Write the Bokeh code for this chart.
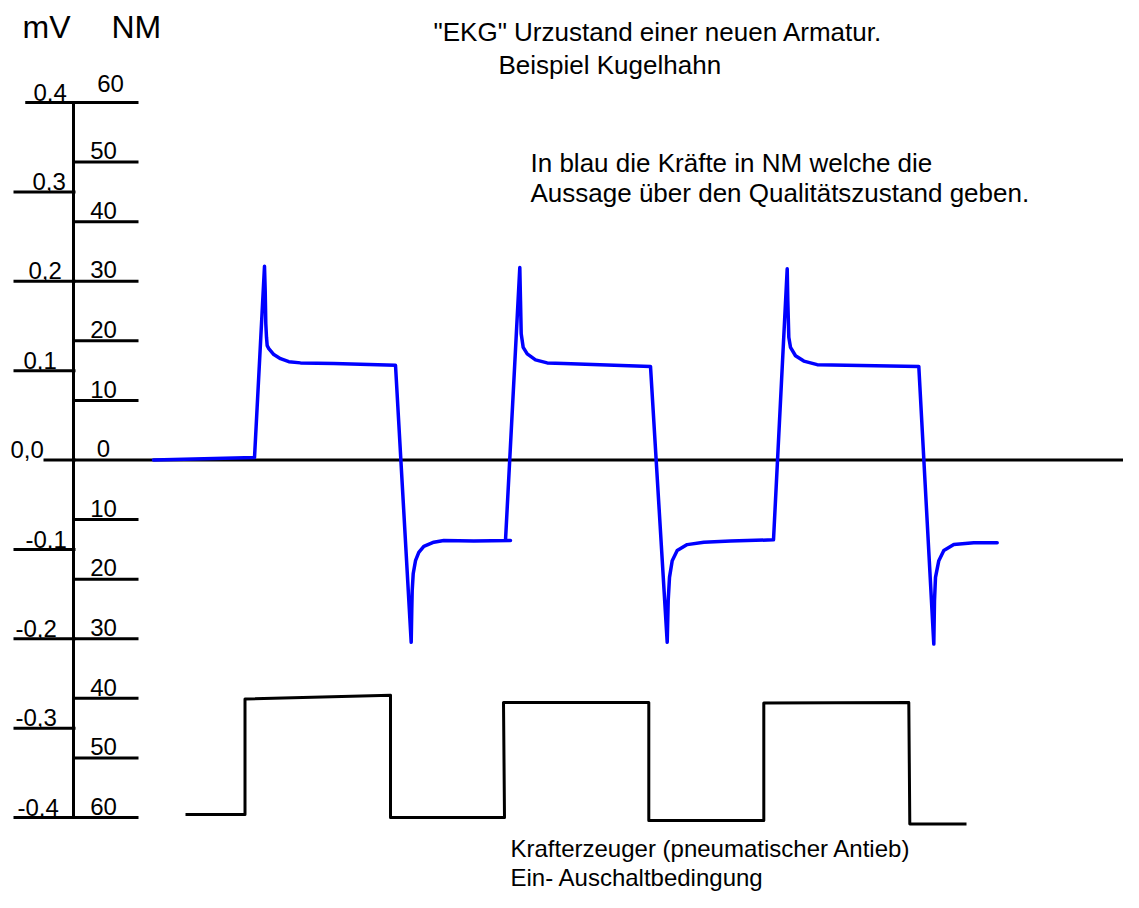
from bokeh.plotting import figure
from bokeh.models import Range1d
from bokeh.core.properties import value
from bokeh.embed import file_html
from bokeh.resources import INLINE

# ---------------- data ----------------
# blue force trace (time in arbitrary units, force in NM; negative = lower half)
blue_t = [153, 254, 264, 264.7, 265.3, 266, 266.7, 268.3, 273.3, 280, 288.3, 300, 333.3, 395,
          410.7, 411.3, 411.7, 412.7, 415, 418.3, 423.3, 433.3, 443.3, 473.3, 510, 505,
          519.3, 520, 520.7, 522.7, 526.7, 535, 546.7, 563.3, 650,
          666.7, 667.7, 669, 671.7, 676.7, 686.7, 703.3, 730, 773,
          786.7, 787.3, 788.3, 790, 795, 803.3, 816.7, 918.3,
          933.3, 934, 935, 938.3, 943.3, 953.3, 973.3, 996.7]
blue_nm = [0.0, 0.4, 32.5, 28.4, 22.9, 20.6, 19.2, 18.7, 17.7, 17.0, 16.5, 16.3, 16.2, 15.9,
           -30.6, -25.0, -21.9, -19.1, -16.9, -15.5, -14.5, -13.8, -13.5, -13.6, -13.5, -13.5,
           32.3, 26.8, 21.2, 18.9, 17.8, 16.8, 16.3, 16.2, 15.7,
           -30.6, -23.6, -19.7, -16.9, -15.2, -14.2, -13.8, -13.6, -13.4,
           32.1, 26.8, 20.6, 18.9, 17.5, 16.6, 16.0, 15.7,
           -30.9, -23.6, -19.7, -16.9, -15.2, -14.2, -13.9, -13.9]

# black on/off signal of the pneumatic actuator
sw_t = [185, 244.5, 244.5, 390, 390, 504, 503, 648.3, 648.3, 763.3, 763.3, 908.3, 909.3, 966]
sw_nm = [-59.5, -59.5, -40.1, -39.5, -60.0, -60.0, -40.7, -40.7, -60.5, -60.5, -40.8, -40.7, -61.1, -61.1]

# scales
nm_ticks = [60, 50, 40, 30, 20, 10, 0, -10, -20, -30, -40, -50, -60]
nm_labels = ["60", "50", "40", "30", "20", "10", "0", "10", "20", "30", "40", "50", "60"]
mv_ticks = [0.4, 0.3, 0.2, 0.1, 0.0, -0.1, -0.2, -0.3, -0.4]
mv_labels = ["0,4", "0,3", "0,2", "0,1", "0,0", "-0,1", "-0,2", "-0,3", "-0,4"]
NM_PER_MV = 150.0  # 60 NM corresponds to 0.4 mV

title_lines = ['"EKG" Urzustand einer neuen Armatur.', "Beispiel Kugelhahn"]
note_lines = ["In blau die Kräfte in NM welche die", "Aussage über den Qualitätszustand geben."]
bottom_lines = ["Krafterzeuger (pneumatischer Antieb)", "Ein- Auschaltbedingung"]

# ---------------- layout helpers ----------------
PX_PER_NM = 893.75 / 150.0
ZERO_PX = 459.5
CENTRAL = 0.3465  # rendered text sits this many em lower than the requested baseline


def px_to_nm(ypx):
    return (ZERO_PX - ypx) / PX_PER_NM


def text_y(baseline_px, size):
    return px_to_nm(baseline_px - CENTRAL * size)


FONT = value("Liberation Sans")

p = figure(width=1123, height=892, x_range=Range1d(0, 1123),
           y_range=Range1d(px_to_nm(892), px_to_nm(0)),
           output_backend="svg", toolbar_location=None,
           x_axis_type=None, y_axis_type=None, min_border=0)
p.grid.visible = False
p.outline_line_color = None
p.background_fill_color = "white"
p.border_fill_color = "white"

AX_X = 73
LW = 3

# vertical axis
p.segment(x0=[AX_X], y0=[nm_ticks[0]], x1=[AX_X], y1=[nm_ticks[-1]], line_color="black", line_width=LW)

# NM ticks (right side of the axis)
nm_x0 = [25 if v == 60 else 73 for v in nm_ticks]
nm_x1 = [1123 if v == 0 else 138 for v in nm_ticks]
p.segment(x0=nm_x0, y0=nm_ticks, x1=nm_x1, y1=nm_ticks, line_color="black", line_width=LW)

# mV ticks (left side of the axis)
mv_pos = [v * NM_PER_MV for v in mv_ticks]
mv_x0 = []
for v in mv_ticks:
    if abs(v - 0.4) < 1e-9:
        mv_x0.append(25)
    elif abs(v) < 1e-9:
        mv_x0.append(43)
    else:
        mv_x0.append(13)
p.segment(x0=mv_x0, y0=mv_pos, x1=[75] * len(mv_pos), y1=mv_pos, line_color="black", line_width=LW)

# tick labels
SHIFT24 = CENTRAL * 24
nm_lx = [110 if i == 0 else 103 for i in range(len(nm_ticks))]
nm_off = [-(11 + SHIFT24) if i == 0 else -(3 + SHIFT24) for i in range(len(nm_ticks))]
p.text(x=nm_lx, y=nm_ticks, text=nm_labels, y_offset=nm_off, text_align="center",
       text_baseline="alphabetic", text_font=FONT, text_font_size="24px", text_color="black")

MV_LABEL_X = [33, 32, 28, 23, 10, 25, 15, 15, 17]
p.text(x=MV_LABEL_X, y=mv_pos, text=mv_labels, y_offset=-(2 + SHIFT24), text_align="left",
       text_baseline="alphabetic", text_font=FONT, text_font_size="24px", text_color="black")

# unit headers
p.text(x=[22, 111], y=[text_y(37.5, 32)] * 2, text=["mV", "NM"], text_align="left",
       text_baseline="alphabetic", text_font=FONT, text_font_size="32px", text_color="black")

# signals
p.line(sw_t, sw_nm, line_color="black", line_width=LW, line_join="round")
p.line(blue_t, blue_nm, line_color="#0000ff", line_width=3.5, line_join="round", line_cap="round")

# texts
p.text(x=[433, 498], y=[text_y(40.7, 26), text_y(73.3, 26)], text=title_lines, text_align="left",
       text_baseline="alphabetic", text_font=FONT, text_font_size="26px", text_color="black")
p.text(x=[530, 530], y=[text_y(171.7, 26), text_y(201.7, 26)], text=note_lines, text_align="left",
       text_baseline="alphabetic", text_font=FONT, text_font_size="26px", text_color="black")
p.text(x=[510, 510], y=[text_y(856, 24), text_y(885, 24)], text=bottom_lines, text_align="left",
       text_baseline="alphabetic", text_font=FONT, text_font_size="24px", text_color="black")

open("out.html", "w").write(file_html(p, INLINE))
